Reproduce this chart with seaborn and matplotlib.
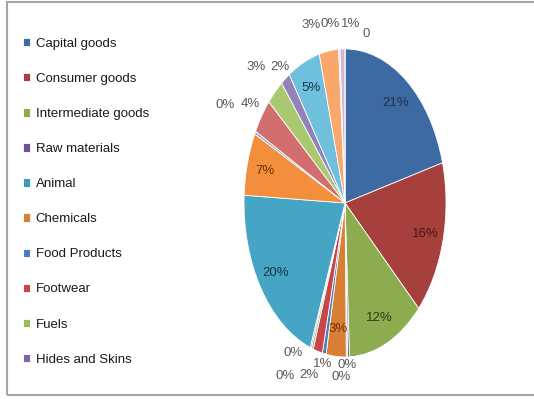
import numpy as np
import matplotlib
matplotlib.use("Agg")
import matplotlib.pyplot as plt
from matplotlib.patches import Rectangle
import seaborn as sns

# product groups, clockwise from 12 o'clock
categories = ["Capital goods", "Consumer goods", "Intermediate goods", "Raw materials",
              "Animal", "Chemicals", "Food Products", "Footwear", "Fuels",
              "Hides and Skins", "Mach and Elec", "Metals", "Minerals", "Miscellaneous",
              "Plastic or Rubber", "Stone and Glass", "Textiles and Clothing",
              "Transportation", "Vegetable", "Wood", "Other"]
shares = [20.8, 16.2, 12.3, 0.3, 0.2, 3.2, 0.6, 1.5, 0.3, 0.2,
          20.2, 6.6, 0.3, 3.7, 2.8, 1.5, 5.2, 3.1, 0.2, 0.8, 0.0]
inside = ["Capital goods", "Consumer goods", "Intermediate goods", "Chemicals",
          "Mach and Elec", "Metals", "Textiles and Clothing"]
n_legend = 10

colors = ["#3D6AA2", "#A5403D", "#8DAB4F", "#6B5490", "#3D9DB5", "#D97F35",
          "#4A7DBA", "#C8454A", "#9BBB59", "#7E66A6", "#46A5C4", "#F28E3C",
          "#8FA8C8", "#D26E6D", "#A8C972", "#9381B9", "#6EC0DC", "#FAA76B",
          "#A9B8D5", "#D3B5D6", "#E3A0A0"]
text_dark = {"Capital goods": "#1F3550", "Consumer goods": "#4A1514",
             "Intermediate goods": "#2E3A12", "Chemicals": "#6B3208",
             "Mach and Elec": "#163A4A", "Metals": "#6B3208",
             "Textiles and Clothing": "#163A4A"}

# (radius, angle nudge in degrees) for the crowded outside labels
outside_pos = {"Raw materials": (1.05, 1), "Animal": (1.13, 3), "Food Products": (1.07, 0),
               "Footwear": (1.17, 2), "Fuels": (1.27, 9), "Hides and Skins": (1.1, 8),
               "Minerals": (1.35, 1), "Miscellaneous": (1.14, 0), "Plastic or Rubber": (1.25, -1),
               "Stone and Glass": (1.09, 0), "Transportation": (1.2, -7),
               "Vegetable": (1.17, -4), "Wood": (1.16, 4), "Other": (1.12, 11)}

sns.set_theme(style="white")
plt.rcParams["font.family"] = ["Liberation Sans", "DejaVu Sans"]

fig = plt.figure(figsize=(5.34, 3.99), dpi=100)
ax = fig.add_axes([0.3813, 0.0088, 0.5296, 0.965])

pal = sns.color_palette(colors)
wedges, _ = ax.pie(shares, colors=pal, startangle=90, counterclock=False,
                   wedgeprops=dict(edgecolor="white", linewidth=0.6))
ax.set_aspect("auto")
ax.set_xlim(-1.4, 1.4)
ax.set_ylim(-1.25, 1.25)
ax.axis("off")

total = sum(shares)
for w, name, v in zip(wedges, categories, shares):
    lab = f"{v / total * 100:.0f}%" if v > 0 else "0"
    mid = np.deg2rad((w.theta1 + w.theta2) / 2)
    if name in inside:
        r = 0.82
        col = text_dark[name]
    else:
        r, dth = outside_pos[name]
        mid -= np.deg2rad(dth)
        col = "#595959"
    ax.text(r * np.cos(mid), r * np.sin(mid), lab, ha="center", va="center",
            fontsize=9.5, color=col)

fig.legend(wedges[:n_legend], categories[:n_legend], loc="upper left",
           bbox_to_anchor=(0.02, 0.935), frameon=False, fontsize=9.5,
           handlelength=0.6, handleheight=0.6, handletextpad=0.4,
           labelspacing=1.75, labelcolor="#1A1A1A")

fig.patches.append(Rectangle((7 / 534, 4 / 399), 0.99, 0.985, transform=fig.transFigure,
                             fill=False, edgecolor="#A6A6A6", linewidth=1.5))

fig.savefig("out.png", dpi=100)
